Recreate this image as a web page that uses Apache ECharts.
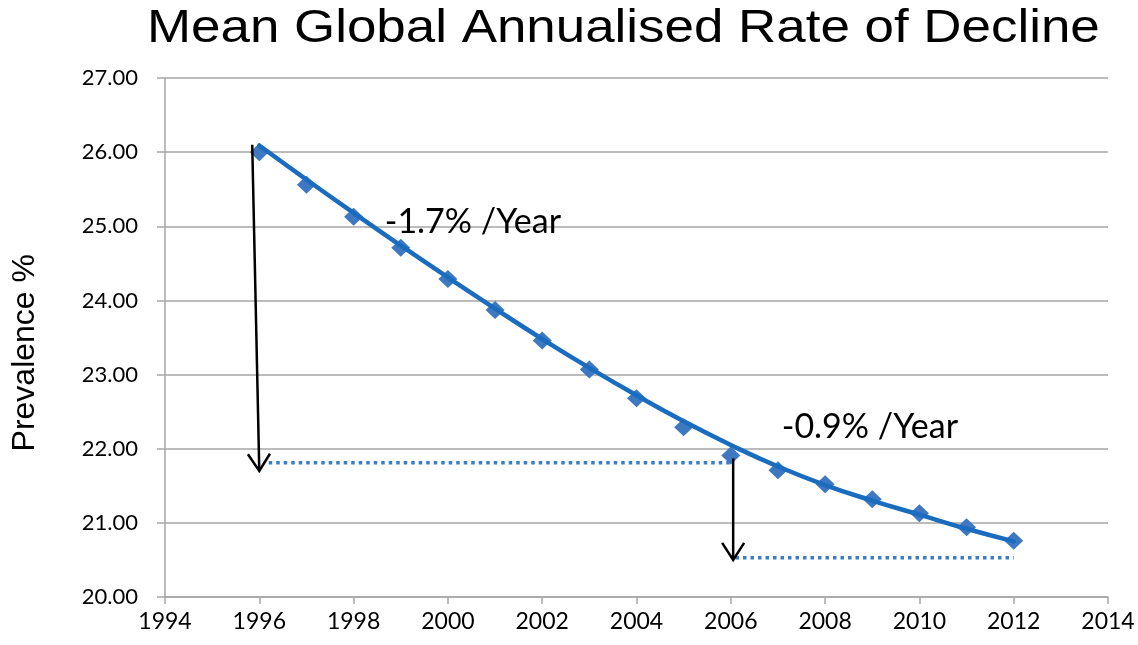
<!DOCTYPE html>
<html>
<head>
<meta charset="utf-8">
<title>Mean Global Annualised Rate of Decline</title>
<script src="https://cdn.jsdelivr.net/npm/echarts@6/dist/echarts.min.js"></script>
<style>
  html, body { margin: 0; padding: 0; background: #fff; }
  #chart { width: 1138px; height: 645px; }
</style>
</head>
<body>
<div id="chart"></div>
<script>
// Mean prevalence by year
const years = [1996, 1997, 1998, 1999, 2000, 2001, 2002, 2003, 2004, 2005, 2006, 2007, 2008, 2009, 2010, 2011, 2012];
const prevalence = [26.00, 25.56, 25.13, 24.71, 24.29, 23.87, 23.46, 23.07, 22.68, 22.29, 21.91, 21.71, 21.52, 21.32, 21.13, 20.94, 20.76];
// Fitted trend curve
const trend = [26.09, 25.63, 25.18, 24.74, 24.31, 23.89, 23.48, 23.09, 22.72, 22.37, 22.05, 21.76, 21.51, 21.30, 21.11, 20.92, 20.75];

// Axis ranges
const xMin = 1994, xMax = 2014, xStep = 2;
const yMin = 20, yMax = 27, yStep = 1;

// Drop arrows: [xFrom, yFrom, xTo, yTo]
const arrows = [
  [1995.85, 26.10, 1996.00, 21.70],
  [2006.05, 21.87, 2006.05, 20.50]
];
// Dotted reference levels: [xFrom, xTo, y]
const levels = [
  [1996.20, 2006.00, 21.81],
  [2006.10, 2012.00, 20.53]
];
// Rate labels: [x, y, text]
const rateLabels = [
  [2000.53, 25.06, '-1.7% /Year'],
  [2008.95, 22.29, '-0.9% /Year']
];

const labelFont = 'Lato, "Open Sans", sans-serif';
const gridGray = '#a6a6a6';

const levelSeries = levels.map(l => ({
  type: 'line',
  data: [[l[0], l[2]], [l[1], l[2]]],
  symbol: 'none',
  silent: true,
  z: 3,
  lineStyle: { color: '#3b7dc6', width: 3.5, type: [3.5, 4], cap: 'butt' }
}));

const chart = echarts.init(document.getElementById('chart'), null, { renderer: 'canvas' });
chart.setOption({
  animation: false,
  backgroundColor: '#ffffff',
  graphic: [
    {
      // chart title, slightly widened
      type: 'text',
      x: 147,
      y: 6,
      scaleX: 1.15,
      style: {
        text: 'Mean Global Annualised Rate of Decline',
        font: '46px "Liberation Sans", Arial, sans-serif',
        fill: '#000'
      }
    },
    {
      type: 'text',
      left: 9,
      top: 254,
      rotation: Math.PI / 2,
      style: {
        text: 'Prevalence %',
        font: '32px "Liberation Sans", Arial, sans-serif',
        fill: '#000'
      }
    }
  ],
  grid: { left: 165, right: 30, top: 78, bottom: 48, containLabel: false },
  xAxis: {
    type: 'value',
    min: xMin, max: xMax, interval: xStep,
    axisLine: { show: true, lineStyle: { color: gridGray, width: 1.5 } },
    axisTick: { show: true, length: 7, lineStyle: { color: gridGray, width: 1.5 } },
    splitLine: { show: false },
    axisLabel: {
      color: '#000', fontFamily: labelFont, fontSize: 23, margin: 13,
      formatter: v => String(v)
    }
  },
  yAxis: {
    type: 'value',
    min: yMin, max: yMax, interval: yStep,
    axisLine: { show: true, lineStyle: { color: gridGray, width: 1.5 } },
    axisTick: { show: true, inside: false, length: 8, lineStyle: { color: gridGray, width: 1.5 } },
    splitLine: { show: true, lineStyle: { color: gridGray, width: 1.5 } },
    axisLabel: {
      color: '#000', fontFamily: labelFont, fontSize: 22, margin: 27,
      formatter: v => v.toFixed(2)
    }
  },
  series: [
    {
      name: 'Prevalence',
      type: 'scatter',
      data: years.map((y, i) => [y, prevalence[i]]),
      symbol: 'diamond',
      symbolSize: [19, 18],
      itemStyle: { color: '#3d78c1', opacity: 1 },
      z: 2
    },
    {
      name: 'Trend',
      type: 'line',
      data: years.map((y, i) => [y, trend[i]]),
      smooth: 0.5,
      symbol: 'none',
      lineStyle: { color: '#1a6cbf', width: 4.5, cap: 'round' },
      z: 4
    },
    ...levelSeries,
    {
      name: 'Arrows',
      type: 'custom',
      silent: true,
      z: 5,
      data: arrows,
      encode: { x: [0, 2], y: [1, 3] },
      renderItem: (params, api) => {
        const p1 = api.coord([api.value(0), api.value(1)]);
        const p2 = api.coord([api.value(2), api.value(3)]);
        const dx = p2[0] - p1[0], dy = p2[1] - p1[1];
        const len = Math.sqrt(dx * dx + dy * dy);
        const ux = dx / len, uy = dy / len;
        const back = 17, half = 11;
        const bx = p2[0] - ux * back, by = p2[1] - uy * back;
        const nx = -uy, ny = ux;
        return {
          type: 'group',
          children: [
            {
              type: 'line',
              shape: { x1: p1[0], y1: p1[1], x2: p2[0] - ux * 1.5, y2: p2[1] - uy * 1.5 },
              style: { stroke: '#000', lineWidth: 2.5 }
            },
            {
              type: 'polyline',
              shape: { points: [[bx + nx * half, by + ny * half], [p2[0], p2[1]], [bx - nx * half, by - ny * half]] },
              style: { stroke: '#000', lineWidth: 2.5, fill: null, lineJoin: 'miter' }
            }
          ]
        };
      }
    },
    {
      name: 'Rates',
      type: 'scatter',
      silent: true,
      z: 6,
      symbolSize: 0,
      itemStyle: { opacity: 1 },
      data: rateLabels.map(r => ({ value: [r[0], r[1]], label: { formatter: r[2] } })),
      label: {
        show: true,
        position: [0, 0],
        align: 'center',
        verticalAlign: 'middle',
        color: '#000',
        fontFamily: labelFont,
        fontSize: 34
      }
    }
  ]
});
</script>
</body>
</html>
